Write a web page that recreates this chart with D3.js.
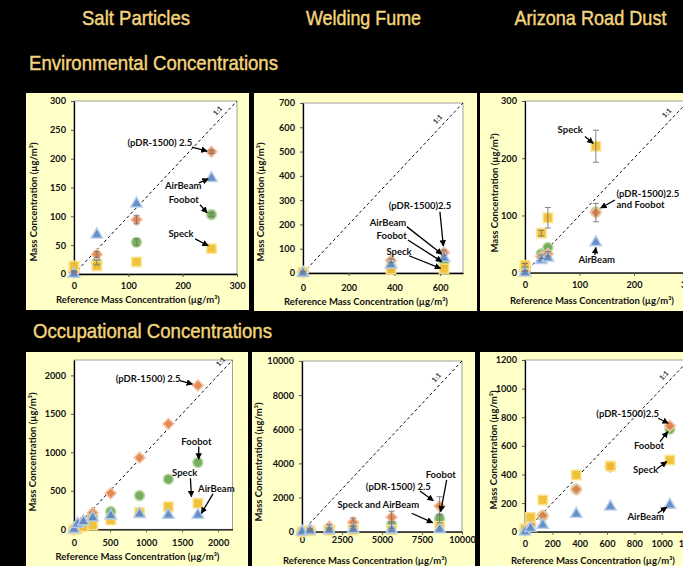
<!DOCTYPE html>
<html><head><meta charset="utf-8">
<script src="https://cdn.jsdelivr.net/npm/d3@7"></script>
<style>
html,body{margin:0;padding:0;background:#000;}
svg{display:block;}
</style></head><body>
<svg id="c" width="683" height="566"></svg>
<script>
// ---------- titles ----------
const colTitles = ["Salt Particles", "Welding Fume", "Arizona Road Dust"];
const rowTitles = ["Environmental Concentrations", "Occupational Concentrations"];
const xAxisTitle = "Reference Mass Concentration (µg/m³)";
const yAxisTitle = "Mass Concentration (µg/m³)";

// ---------- Salt particles, environmental ----------
const saltEnvRef      = [0, 42, 115, 253];
const saltEnvPDR      = [3, 34, 94, 212];
const saltEnvAirBeam  = [0, 68, 122, 166];
const saltEnvFoobot   = [5, 20, 55, 103];
const saltEnvSpeck    = [14, 14, 21, 44];
const saltEnvPDRErr   = [1, 5, 7, 3];
const saltEnvFoobotErr= [1, 4, 6, 3];

// ---------- Welding fume, environmental ----------
const weldEnvRef      = [0, 385, 617];
const weldEnvPDR      = [5, 51, 84];
const weldEnvAirBeam  = [0, 34, 62];
const weldEnvFoobot   = [2, 25, 42];
const weldEnvSpeck    = [3, 16, 18];
const weldEnvPDRErr   = [1, 8, 10];

// ---------- Arizona road dust, environmental ----------
const azEnvRef        = [0, 30, 42, 130];
const azEnvPDR        = [3, 28, 33, 105];
const azEnvAirBeam    = [0, 22, 26, 53];
const azEnvFoobot     = [4, 33, 44, 106];
const azEnvSpeck      = [13, 69, 96, 221];
const azEnvSpeckErr   = [3, 5, 18, 28];
const azEnvPDRErr     = [1, 3, 4, 16];

// ---------- Salt particles, occupational ----------
const saltOccRef      = [0, 50, 130, 260, 510, 910, 1310, 1720];
const saltOccPDR      = [0, 40, 110, 215, 468, 930, 1370, 1870];
const saltOccAirBeam  = [0, 70, 100, 150, 178, 198, 186, 186];
const saltOccFoobot   = [0, 45, 90, 160, 230, 438, 650, 867];
const saltOccSpeck    = [0, 10, 35, 55, 120, 220, 294, 338];

// ---------- Welding fume, occupational ----------
const weldOccRef      = [0, 500, 1700, 3200, 5600, 8600];
const weldOccPDR      = [0, 120, 300, 550, 850, 1500];
const weldOccAirBeam  = [0, 60, 80, 130, 110, 140];
const weldOccFoobot   = [0, 80, 150, 250, 400, 780];
const weldOccSpeck    = [0, 50, 80, 100, 110, 300];
const weldOccPDRErr   = [0, 50, 100, 250, 350, 550];
const weldOccFoobotErr= [0, 30, 60, 100, 200, 250];

// ---------- Arizona road dust, occupational ----------
const azOccRef        = [0, 40, 130, 375, 625, 1060];
const azOccPDR        = [10, 50, 112, 296, 455, 740];
const azOccAirBeam    = [0, 24, 47, 124, 175, 187];
const azOccFoobot     = [10, 50, 110, 296, 455, 716];
const azOccSpeck      = [20, 100, 222, 397, 459, 501];

// ---------- tick labels ----------
const ticks300  = [0, 100, 200, 300];
const ticks300b = [0, 50, 100, 150, 200, 250, 300];
const ticks700x = [0, 200, 400, 600];
const ticks700y = [0, 100, 200, 300, 400, 500, 600, 700];
const ticks2200 = [0, 500, 1000, 1500, 2000];
const ticks10kx = [0, 2500, 5000, 7500, 10000];
const ticks10ky = [0, 2000, 4000, 6000, 8000, 10000];
const ticks1200 = [0, 200, 400, 600, 800, 1000, 1200];

// ---------- styles ----------
const FONT = "Lato, 'Open Sans', sans-serif";
const TITLE_FONT = "'Liberation Sans', Arial, sans-serif";
const TITLE_COLOR = "#f3d47c";
const seriesStyle = {
  foobot:  {shape: "circle",   fill: "#6aa84f", stroke: "#b9dca3"},
  pdr:     {shape: "diamond",  fill: "#e0804a", stroke: "#f7c4a3"},
  speck:   {shape: "square",   fill: "#f2bd2b", stroke: "#fbe38f"},
  airbeam: {shape: "triangle", fill: "#5a86c4", stroke: "#b7cdea"}
};
const drawOrder = ["foobot", "pdr", "speck", "airbeam"];

// ---------- panel layouts ----------
const panels = [
  { bg:[26,93,223,217], plot:[74,101,237,274], xDom:[0,300], yDom:[0,300],
    xTicks:ticks300, yTicks:ticks300b, xLabDy:15,
    xTitle:[138,303], yTitle:[35,202], oneFrac:0.915,
    ref:saltEnvRef, vals:{pdr:saltEnvPDR, airbeam:saltEnvAirBeam, foobot:saltEnvFoobot, speck:saltEnvSpeck},
    errs:{pdr:saltEnvPDRErr, foobot:saltEnvFoobotErr},
    notes:[
      {t:"(pDR-1500) 2.5", x:158, y:227, a:[217,220,245,213]},
      {t:"AirBeam", x:201, y:151, a:[230,158,247,165]},
      {t:"Foobot", x:202, y:128, a:[232,120,245,106]},
      {t:"Speck", x:197, y:69, a:[223,61,247,49]}
    ]},
  { bg:[254,93,223,218], plot:[303,103,463,273], xDom:[0,700], yDom:[0,700],
    xTicks:ticks700x, yTicks:ticks700y, xLabDy:18,
    xTitle:[366,305], yTitle:[262,202], oneFrac:0.875,
    ref:weldEnvRef, vals:{pdr:weldEnvPDR, airbeam:weldEnvAirBeam, foobot:weldEnvFoobot, speck:weldEnvSpeck},
    errs:{pdr:weldEnvPDRErr},
    notes:[
      {t:"(pDR-1500)2.5", x:512, y:273, a:[599,252,614,111]},
      {t:"AirBeam", x:372, y:202, a:[454,191,607,78]},
      {t:"Foobot", x:388, y:149, a:[459,136,607,47]},
      {t:"Speck", x:420, y:85, a:[464,71,602,19]}
    ]},
  { bg:[480,93,215,218], plot:[525,101,688.5,272.7], xDom:[0,300], yDom:[0,300],
    xTicks:ticks300, yTicks:ticks300, xLabDy:15,
    xTitle:[592,304], yTitle:[496,193], oneFrac:0.9,
    ref:azEnvRef, vals:{pdr:azEnvPDR, airbeam:azEnvAirBeam, foobot:azEnvFoobot, speck:azEnvSpeck},
    errs:{speck:azEnvSpeckErr, pdr:azEnvPDRErr},
    notes:[
      {t:"Speck", x:83, y:248, a:[110,238,125,226]},
      {t:"(pDR-1500)2.5", x:168, y:137, anchor:"start", a:[165,127,139,113]},
      {t:"and Foobot", x:168, y:118, anchor:"start"},
      {t:"AirBeam", x:131.5, y:21, a:[128,31,130,44]}
    ]},
  { bg:[26,352,222,220], plot:[74,360,232.5,529.3], xDom:[0,2200], yDom:[0,2200],
    xTicks:ticks2200, yTicks:ticks2200, xLabDy:17,
    xTitle:[137.5,560], yTitle:[34,452], oneFrac:0.96,
    ref:saltOccRef, vals:{pdr:saltOccPDR, airbeam:saltOccAirBeam, foobot:saltOccFoobot, speck:saltOccSpeck},
    errs:{},
    notes:[
      {t:"(pDR-1500) 2.5", x:1029, y:1944, a:[1468,1931,1644,1888]},
      {t:"Foobot", x:1699, y:1128, a:[1731,1076,1731,911]},
      {t:"Speck", x:1537, y:729, a:[1616,664,1630,424]},
      {t:"AirBeam", x:1976, y:512, a:[1929,460,1768,208]}
    ]},
  { bg:[252,352,223,220], plot:[302,361,462,531.7], xDom:[0,10000], yDom:[0,10000],
    xTicks:ticks10kx, yTicks:ticks10ky, xLabDy:11,
    xTitle:[365,564], yTitle:[260,462], oneFrac:0.873,
    ref:weldOccRef, vals:{pdr:weldOccPDR, airbeam:weldOccAirBeam, foobot:weldOccFoobot, speck:weldOccSpeck},
    errs:{pdr:weldOccPDRErr, foobot:weldOccFoobotErr},
    notes:[
      {t:"Foobot", x:8669, y:3284, a:[9044,3032,8669,1173]},
      {t:"(pDR-1500) 2.5", x:6019, y:2604, a:[7375,2387,8206,1818]},
      {t:"Speck and AirBeam", x:4769, y:1525, a:[6856,1079,8169,528]}
    ]},
  { bg:[480,352,215,220], plot:[525,360,689,531.7], xDom:[0,1200], yDom:[0,1200],
    xTicks:ticks1200, yTicks:ticks1200, xLabDy:15,
    xTitle:[593,564], yTitle:[495,450], oneFrac:0.88,
    ref:azOccRef, vals:{pdr:azOccPDR, airbeam:azOccAirBeam, foobot:azOccFoobot, speck:azOccSpeck},
    errs:{},
    notes:[
      {t:"(pDR-1500)2.5", x:751, y:816, a:[975,793,1048,758]},
      {t:"Foobot", x:907, y:594, a:[988,629,1044,699]},
      {t:"Speck", x:883, y:427, a:[971,443,1037,490]},
      {t:"AirBeam", x:883, y:98, a:[971,129,1037,171]}
    ]}
];

const svg = d3.select("#c");
svg.append("rect").attr("width",683).attr("height",566).attr("fill","#000");

const defs = svg.append("defs");
defs.append("marker").attr("id","ah").attr("viewBox","0 0 10 10")
  .attr("refX",9).attr("refY",5).attr("markerWidth",5).attr("markerHeight",5)
  .attr("orient","auto").append("path").attr("d","M0,0L10,5L0,10z").attr("fill","#000");

// titles (condensed look via textLength)
const colCenters = [136, 363.5, 590.5];
const colWidths = [108, 115, 152];
colTitles.forEach((t,i)=>{
  svg.append("text").attr("x",colCenters[i]-colWidths[i]/2).attr("y",25)
    .attr("textLength",colWidths[i]).attr("lengthAdjust","spacingAndGlyphs")
    .attr("font-family",TITLE_FONT).attr("font-size",21).attr("fill",TITLE_COLOR)
    .attr("stroke",TITLE_COLOR).attr("stroke-width",0.45).text(t);
});
const rowPos = [[29,70,249],[33,338,239]];
rowTitles.forEach((t,i)=>{
  svg.append("text").attr("x",rowPos[i][0]).attr("y",rowPos[i][1])
    .attr("textLength",rowPos[i][2]).attr("lengthAdjust","spacingAndGlyphs")
    .attr("font-family",TITLE_FONT).attr("font-size",21).attr("fill",TITLE_COLOR)
    .attr("stroke",TITLE_COLOR).attr("stroke-width",0.45).text(t);
});

function symPath(shape){
  if(shape==="circle") return d3.symbol(d3.symbolCircle, 78)();
  if(shape==="square") return d3.symbol(d3.symbolSquare, 88)();
  if(shape==="diamond") return d3.symbol(d3.symbolSquare, 60)();
  return d3.symbol(d3.symbolTriangle, 56)();
}
const fmt = d3.format("d");

panels.forEach(p=>{
  const g = svg.append("g");
  g.append("rect").attr("x",p.bg[0]).attr("y",p.bg[1]).attr("width",p.bg[2]).attr("height",p.bg[3])
    .attr("fill","#ffffc8");
  const [l,t,r,b] = p.plot;
  const x = d3.scaleLinear().domain(p.xDom).range([l,r]);
  const y = d3.scaleLinear().domain(p.yDom).range([b,t]);

  g.append("rect").attr("x",l).attr("y",t).attr("width",r-l).attr("height",b-t)
    .attr("fill","#fff").attr("stroke","#8a8a8a").attr("stroke-width",0.8);

  // axes
  const xa = g.append("g").attr("transform",`translate(0,${b})`)
    .call(d3.axisBottom(x).tickValues(p.xTicks).tickFormat(fmt).tickSize(3).tickSizeOuter(0).tickPadding(2));
  xa.select(".domain").attr("stroke","#000").attr("stroke-width",1.3);
  xa.selectAll(".tick line").attr("stroke","#555");
  xa.selectAll(".tick text").attr("y",p.xLabDy).attr("dy",0)
    .attr("font-family",FONT).attr("font-weight",700).attr("font-size",9.2).attr("fill","#111");

  const ya = g.append("g").attr("transform",`translate(${l},0)`)
    .call(d3.axisLeft(y).tickValues(p.yTicks).tickFormat(fmt).tickSize(3).tickSizeOuter(0).tickPadding(5));
  ya.select(".domain").attr("stroke","#000").attr("stroke-width",1.3);
  ya.selectAll(".tick line").attr("stroke","#555");
  ya.selectAll(".tick text").attr("font-family",FONT).attr("font-weight",700).attr("font-size",9.2).attr("fill","#111");

  // axis titles
  g.append("text").attr("x",p.xTitle[0]).attr("y",p.xTitle[1]).attr("text-anchor","middle")
    .attr("font-family",FONT).attr("font-weight",700).attr("font-size",9.5).attr("fill","#111").text(xAxisTitle);
  g.append("text").attr("transform",`translate(${p.yTitle[0]},${p.yTitle[1]}) rotate(-90)`)
    .attr("text-anchor","middle").attr("dominant-baseline","middle")
    .attr("font-family",FONT).attr("font-weight",700).attr("font-size",9.5).attr("fill","#111").text(yAxisTitle);

  // 1:1 line
  const m = Math.min(p.xDom[1], p.yDom[1]);
  g.append("line").attr("x1",x(0)).attr("y1",y(0)).attr("x2",x(m)).attr("y2",y(m))
    .attr("stroke","#111").attr("stroke-width",1).attr("stroke-dasharray","3,2.5");
  const ang = Math.atan2(y(m)-y(0), x(m)-x(0))*180/Math.PI;
  const fv = m*p.oneFrac;
  const rad = ang*Math.PI/180;
  const ox = Math.sin(rad)*5, oy = -Math.cos(rad)*5;
  g.append("text").attr("transform",`translate(${x(fv)+ox},${y(fv)+oy}) rotate(${ang})`)
    .attr("text-anchor","middle").attr("font-family",FONT).attr("font-weight",700)
    .attr("font-size",7).attr("fill","#333").text("1:1");

  // clip for markers
  const clipId = "clip"+Math.round(l)+"_"+Math.round(t);
  defs.append("clipPath").attr("id",clipId).append("rect")
    .attr("x",l-8).attr("y",t-8).attr("width",r-l+16).attr("height",b-t+16);
  const mg = g.append("g").attr("clip-path",`url(#${clipId})`);

  drawOrder.forEach(k=>{
    const st = seriesStyle[k];
    const vals = p.vals[k];
    const pts = p.ref.map((rv,i)=>({x:rv, y:vals[i]}));
    mg.selectAll(null).data(pts).enter().append("path")
      .attr("d",symPath(st.shape))
      .attr("transform",d=>`translate(${x(d.x)},${y(d.y)})${st.shape==="diamond"?" rotate(45)":""}`)
      .attr("fill",st.fill).attr("fill-opacity",0.92)
      .attr("stroke",st.stroke).attr("stroke-width",1.6).attr("stroke-opacity",0.9);
  });
  // error bars (drawn over markers)
  drawOrder.forEach(k=>{
    const e = p.errs[k];
    if(!e) return;
    const vals = p.vals[k];
    p.ref.forEach((rv,i)=>{
      if(!e[i]) return;
      const cx = x(rv), y1 = y(vals[i]-e[i]), y2 = y(vals[i]+e[i]);
      mg.append("line").attr("x1",cx).attr("x2",cx).attr("y1",y1).attr("y2",y2)
        .attr("stroke","#777").attr("stroke-width",0.9);
      [y1,y2].forEach(yy=>mg.append("line").attr("x1",cx-3).attr("x2",cx+3).attr("y1",yy).attr("y2",yy)
        .attr("stroke","#777").attr("stroke-width",0.9));
    });
  });

  // annotations
  p.notes.forEach(n=>{
    g.append("text").attr("x",x(n.x)).attr("y",y(n.y)).attr("text-anchor",n.anchor||"middle")
      .attr("dominant-baseline","middle").attr("font-family",FONT).attr("font-weight",700)
      .attr("font-size",9.5).attr("fill","#111").text(n.t);
    if(n.a){
      g.append("line").attr("x1",x(n.a[0])).attr("y1",y(n.a[1])).attr("x2",x(n.a[2])).attr("y2",y(n.a[3]))
        .attr("stroke","#000").attr("stroke-width",1.3).attr("marker-end","url(#ah)");
    }
  });
});
</script>
</body></html>
